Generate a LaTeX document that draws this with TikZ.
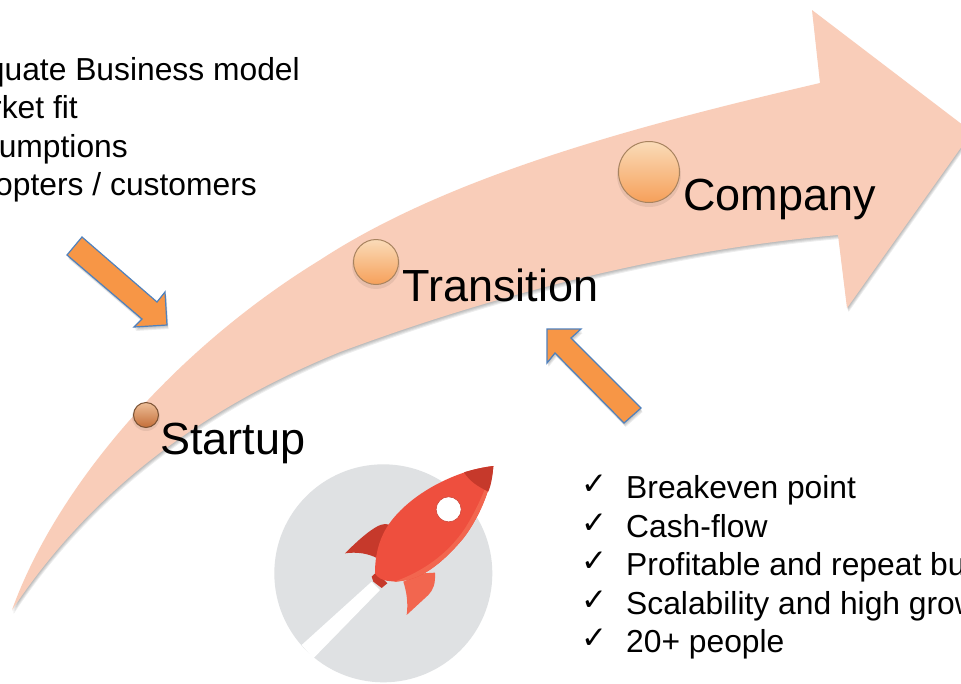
\documentclass[tikz,border=0pt]{standalone}
\usepackage{fontspec}
\setmainfont{Liberation Sans}
\newfontfamily\checkfont{DejaVu Sans}
\usepackage{xcolor}
\usepackage{tikz}
\definecolor{swoosh}{HTML}{F9CDB9}
\definecolor{blockfill}{HTML}{F79646}
\definecolor{blockline}{HTML}{4F81BD}
\definecolor{discgray}{HTML}{DFE1E3}
\definecolor{rocketbody}{HTML}{EE4F3E}
\definecolor{rocketlight}{HTML}{F2664F}
\definecolor{rocketdark}{HTML}{C6392B}
\definecolor{balltop}{HTML}{FADBB8}
\definecolor{ballmiddle}{HTML}{FBC490}
\definecolor{ballbottom}{HTML}{F6A05A}
\definecolor{ballrim}{HTML}{A8835F}
\definecolor{coppertop}{HTML}{EDBE98}
\definecolor{coppermiddle}{HTML}{E29A68}
\definecolor{copperbottom}{HTML}{C46E38}
\definecolor{copperrim}{HTML}{7A5234}
\newcommand{\swooshpath}{(12,610) .. controls (55,490) and (170,352) .. (320,260)
    .. controls (450,175) and (640,125) .. (820,83)
    -- (812,10) -- (972,132) -- (847,308) -- (838,235)
    .. controls (690,248) and (520,285) .. (340,352)
    .. controls (210,405) and (95,485) .. (12,610) -- cycle}
\newcommand{\downarrowpath}{(82,237) -- (157,302) -- (165,292) -- (167,325) -- (134,327) -- (142,319) -- (67,255) -- cycle}
\newcommand{\uparrowpath}{(547,329) -- (581,329) -- (571,338) -- (641,408) -- (624,423) -- (555,353) -- (547,363) -- cycle}
\tikzstyle{softshadow} = [fill=black, opacity=0.07]
\tikzstyle{blockarrow} = [draw=blockline, line width=1.2pt, fill=blockfill, line join=miter]
\tikzstyle{stage} = [inner sep=0pt, anchor=base west, font=\fontsize{45}{45}\selectfont]
\tikzstyle{item} = [inner sep=0pt, font=\fontsize{31.8}{31.8}\selectfont]
\tikzstyle{checkitem} = [inner sep=0pt, anchor=base west, font=\fontsize{31}{31}\selectfont\checkfont]
\tikzstyle{ball} = [circle, inner sep=0pt, draw=ballrim, line width=1pt, top color=balltop, middle color=ballmiddle, bottom color=ballbottom]
\tikzstyle{copperball} = [circle, inner sep=0pt, draw=copperrim, line width=1pt, top color=coppertop, middle color=coppermiddle, bottom color=copperbottom]

\begin{document}
\begin{tikzpicture}[x=1pt, y=-1pt]
    \useasboundingbox (0,0) rectangle (961,683);
    \clip (0,0) rectangle (961,683);
    \fill[white] (0,0) rectangle (961,683);
    \foreach \d in {1,2,3,4} {
        \fill[softshadow, shift={(0.4*\d,1.0*\d)}] \swooshpath;
        \fill[softshadow, shift={(0.4*\d,1.0*\d)}] \downarrowpath;
        \fill[softshadow, shift={(0.4*\d,1.0*\d)}] \uparrowpath;
    }
    \fill[swoosh] \swooshpath;
    \fill[softshadow] (146,417) circle (14pt);
    \fill[softshadow] (376,265) circle (24pt);
    \fill[softshadow] (649,175) circle (32pt);
    \node[copperball, minimum size=25pt] (startball) at (146,415) {};
    \node[ball, minimum size=45pt] (transball) at (376,262) {};
    \node[ball, minimum size=61pt] (compball) at (649,172) {};
    \node[stage] (startup) at (160,454) {Startup};
    \node[stage] (transition) at (402,301) {Transition};
    \node[stage] (company) at (683,210) {Company};
    \draw[blockarrow] \downarrowpath;
    \draw[blockarrow] \uparrowpath;
    \node[item, anchor=base east] (fail1) at (300,80) {quate Business model};
    \node[item, anchor=base east] (fail2) at (78,118) {rket fit};
    \node[item, anchor=base east] (fail3) at (128,157) {umptions};
    \node[item, anchor=base east] (fail4) at (257,195) {opters / customers};
    \node[checkitem] (check1) at (581,494) {✓};
    \node[checkitem] (check2) at (581,533) {✓};
    \node[checkitem] (check3) at (581,571) {✓};
    \node[checkitem] (check4) at (581,610) {✓};
    \node[checkitem] (check5) at (581,648) {✓};
    \node[item, anchor=base west] (goal1) at (626,498) {Breakeven point};
    \node[item, anchor=base west] (goal2) at (626,537) {Cash-flow};
    \node[item, anchor=base west] (goal3) at (626,575) {Profitable and repeat bu};
    \node[item, anchor=base west] (goal4) at (626,614) {Scalability and high grow};
    \node[item, anchor=base west] (goal5) at (626,652) {20+ people};
    \begin{scope}[shift={(260,450)}, x=0.3333pt, y=-0.3333pt]
        \node[circle, fill=discgray, minimum size=218pt, inner sep=0pt] (disc) at (370,370) {};
        \fill[white] (335,395) -- (360,420) -- (160,625) -- (125,585) -- cycle;
        \fill[rocketdark] (395,225) -- (375,222) .. controls (345,222) and (285,280) .. (255,310)
            .. controls (290,305) and (325,310) .. (352,325) -- cycle;
        \fill[rocketlight] (490,370) -- (525,368) .. controls (527,400) and (520,420) .. (505,435) -- (440,495)
            .. controls (445,460) and (440,425) .. (430,395) -- cycle;
        \fill[rocketdark] (350,366) -- (335,380) -- (340,395) -- (365,414) -- (382,400) -- cycle;
        \fill[rocketbody] (700,48) .. controls (590,60) and (450,130) .. (385,225)
            .. controls (355,270) and (345,320) .. (345,370)
            .. controls (360,395) and (395,398) .. (441,390)
            .. controls (500,378) and (560,325) .. (610,265)
            .. controls (660,200) and (695,110) .. (700,48) -- cycle;
        \fill[rocketlight] (700,48) .. controls (695,110) and (660,200) .. (610,265)
            .. controls (560,325) and (500,378) .. (441,390)
            .. controls (425,393) and (410,396) .. (400,396)
            .. controls (490,365) and (565,310) .. (615,235)
            .. controls (650,180) and (680,110) .. (700,48) -- cycle;
        \fill[rocketdark] (700,48) .. controls (670,52) and (640,58) .. (612,67)
            .. controls (630,95) and (655,110) .. (685,125) .. controls (695,100) and (698,75) .. (700,48) -- cycle;
        \node[circle, fill=white, draw=rocketdark, line width=0.5pt, minimum size=25pt, inner sep=0pt] (window) at (566,178) {};
    \end{scope}
\end{tikzpicture}
\end{document}
